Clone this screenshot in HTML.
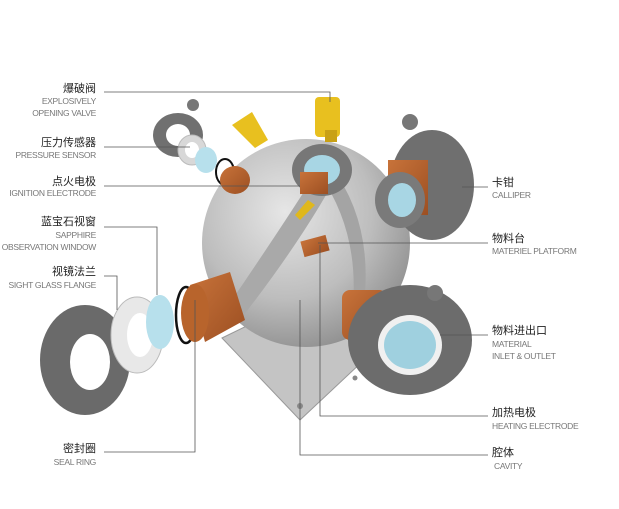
<!DOCTYPE html>
<html><head><meta charset="utf-8"><style>
body{margin:0;background:#fff;}
svg{display:block}
.cn{font-family:"Liberation Sans","Noto Sans CJK SC",sans-serif;font-size:11px;fill:#222}
.en{font-family:"Liberation Sans",sans-serif;font-size:8.5px;fill:#777;letter-spacing:-0.3px}
.ln{stroke:#555;stroke-width:0.8;fill:none}
</style></head><body>
<svg width="619" height="509" viewBox="0 0 619 509">
<defs>
<radialGradient id="sph" cx="0.4" cy="0.35" r="0.7">
<stop offset="0" stop-color="#e6e6e6"/><stop offset="0.6" stop-color="#bdbdbd"/><stop offset="1" stop-color="#8e8e8e"/></radialGradient>
<linearGradient id="cu" x1="0" y1="0" x2="1" y2="1"><stop offset="0" stop-color="#c8733a"/><stop offset="1" stop-color="#9c4f22"/></linearGradient>
</defs>
<!-- base plate -->
<polygon points="222,338 300,300 380,345 300,420" fill="#c4c4c4" stroke="#999"/>
<circle cx="300" cy="406" r="3" fill="#888"/><circle cx="355" cy="378" r="2.5" fill="#888"/>
<!-- sphere -->
<circle cx="306" cy="243" r="104" fill="url(#sph)"/>
<path d="M232,300 Q300,200 330,150 L345,160 Q310,230 240,320 Z" fill="#a9a9a9"/>
<path d="M330,165 Q380,230 360,330 L350,330 Q365,240 320,175 Z" fill="#a4a4a4"/>
<!-- top clamp -->
<ellipse cx="322" cy="170" rx="30" ry="26" fill="#777"/>
<ellipse cx="322" cy="170" rx="18" ry="15" fill="#a8d6e4"/>
<rect x="300" y="172" width="28" height="22" fill="url(#cu)"/>
<polygon points="295,215 308,200 315,205 300,220" fill="#e0b81c"/>
<rect x="302" y="238" width="26" height="16" fill="url(#cu)" transform="rotate(-15 315 246)"/>
<!-- yellow valves -->
<rect x="315" y="97" width="25" height="40" rx="4" fill="#e8c01f"/>
<rect x="325" y="130" width="12" height="12" fill="#c9a115"/>
<polygon points="232,125 252,112 268,140 255,148" fill="#e8c01f"/>
<!-- top-left small clamp set -->
<ellipse cx="178" cy="135" rx="25" ry="22" fill="#707070"/>
<ellipse cx="178" cy="135" rx="12" ry="11" fill="#fff"/>
<circle cx="193" cy="105" r="6" fill="#777"/>
<ellipse cx="192" cy="150" rx="14" ry="15" fill="#d8d8d8" stroke="#bbb"/>
<ellipse cx="192" cy="150" rx="7" ry="8" fill="#fff"/>
<ellipse cx="206" cy="160" rx="11" ry="13" fill="#b7e0ec"/>
<ellipse cx="225" cy="172" rx="9" ry="13" fill="none" stroke="#111" stroke-width="2"/>
<ellipse cx="235" cy="180" rx="15" ry="14" fill="url(#cu)"/>
<!-- upper right clamp -->
<ellipse cx="432" cy="185" rx="42" ry="55" fill="#6f6f6f"/>
<rect x="388" y="160" width="40" height="55" fill="url(#cu)"/>
<circle cx="410" cy="122" r="8" fill="#777"/>
<ellipse cx="400" cy="200" rx="25" ry="28" fill="#7a7a7a"/>
<ellipse cx="402" cy="200" rx="14" ry="17" fill="#a8d6e4"/>
<!-- lower right clamp -->
<rect x="342" y="290" width="45" height="50" rx="8" fill="url(#cu)"/>
<ellipse cx="410" cy="340" rx="62" ry="55" fill="#6c6c6c"/>
<ellipse cx="410" cy="345" rx="32" ry="30" fill="#f0f0f0"/>
<ellipse cx="410" cy="345" rx="26" ry="24" fill="#9fd0df"/>
<circle cx="435" cy="293" r="8" fill="#777"/>
<!-- left assembly -->
<ellipse cx="85" cy="360" rx="45" ry="55" fill="#6a6a6a"/>
<ellipse cx="90" cy="362" rx="20" ry="28" fill="#fff"/>
<ellipse cx="137" cy="335" rx="26" ry="38" fill="#e8e8e8" stroke="#bbb"/>
<ellipse cx="140" cy="335" rx="13" ry="22" fill="#fff"/>
<ellipse cx="160" cy="322" rx="14" ry="27" fill="#b7e0ec"/>
<ellipse cx="186" cy="315" rx="10" ry="28" fill="none" stroke="#111" stroke-width="2.5"/>
<polygon points="190,285 230,272 245,320 205,342" fill="url(#cu)"/>
<ellipse cx="195" cy="313" rx="14" ry="29" fill="#b8642c"/>
<!-- lines -->
<path class="ln" d="M104,92 H330 V102"/>
<path class="ln" d="M104,147 H190"/>
<path class="ln" d="M104,186 H300"/>
<path class="ln" d="M104,227 H157 V295"/>
<path class="ln" d="M104,276 H117 V310"/>
<path class="ln" d="M104,452 H195 V300"/>
<path class="ln" d="M462,187 H488"/>
<path class="ln" d="M318,243 H488"/>
<path class="ln" d="M440,335 H488"/>
<path class="ln" d="M320,245 V416 H488"/>
<path class="ln" d="M300,300 V455 H488"/>
<!-- left labels -->
<g text-anchor="end">
<text class="cn" x="96" y="92">爆破阀</text>
<text class="en" x="96" y="104">EXPLOSIVELY</text>
<text class="en" x="96" y="116">OPENING VALVE</text>
<text class="cn" x="96" y="146">压力传感器</text>
<text class="en" x="96" y="158">PRESSURE SENSOR</text>
<text class="cn" x="96" y="185">点火电极</text>
<text class="en" x="96" y="196">IGNITION ELECTRODE</text>
<text class="cn" x="96" y="225">蓝宝石视窗</text>
<text class="en" x="96" y="238">SAPPHIRE</text>
<text class="en" x="96" y="250">OBSERVATION WINDOW</text>
<text class="cn" x="96" y="275">视镜法兰</text>
<text class="en" x="96" y="288">SIGHT GLASS FLANGE</text>
<text class="cn" x="96" y="452">密封圈</text>
<text class="en" x="96" y="465">SEAL RING</text>
</g>
<text class="cn" x="492" y="186">卡钳</text>
<text class="en" x="492" y="198">CALLIPER</text>
<text class="cn" x="492" y="242">物料台</text>
<text class="en" x="492" y="254">MATERIEL PLATFORM</text>
<text class="cn" x="492" y="334">物料进出口</text>
<text class="en" x="492" y="347">MATERIAL</text>
<text class="en" x="492" y="359">INLET &amp; OUTLET</text>
<text class="cn" x="492" y="416">加热电极</text>
<text class="en" x="492" y="429">HEATING ELECTRODE</text>
<text class="cn" x="492" y="456">腔体</text>
<text class="en" x="494" y="469">CAVITY</text>
</svg>
</body></html>
